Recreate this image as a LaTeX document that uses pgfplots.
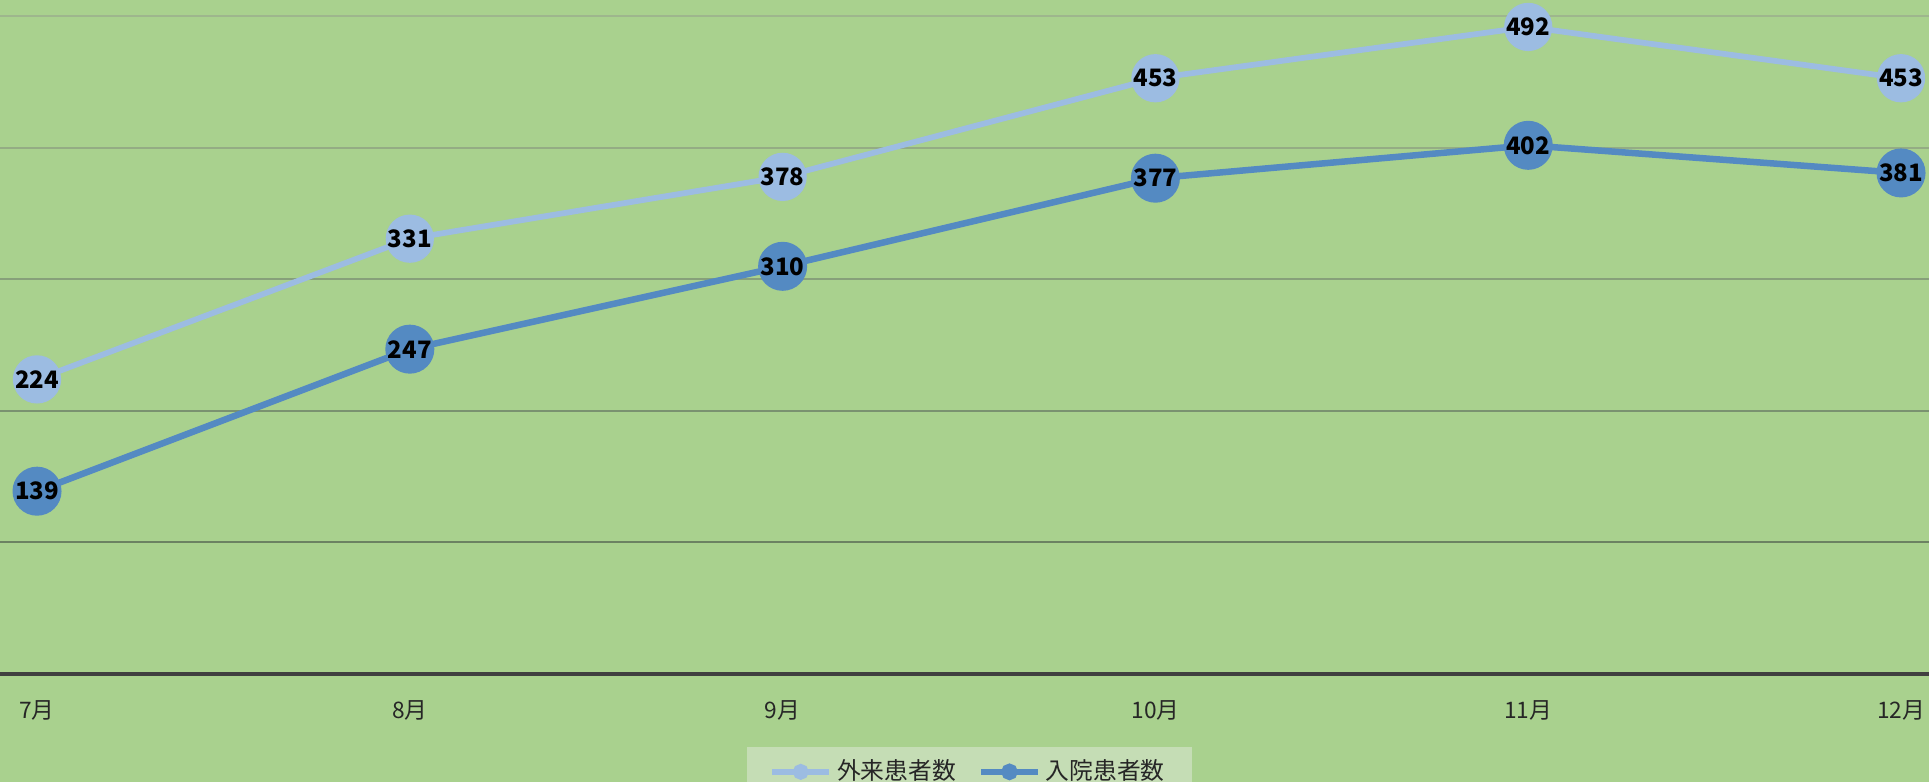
\documentclass[border=0pt]{standalone}
\usepackage{fontspec}
\setmainfont{Noto Sans CJK JP}
\usepackage{pgfplots}
\pgfplotsset{compat=1.18}
\definecolor{bg}{HTML}{A9D18E}
\definecolor{lightser}{HTML}{9CBCE2}
\definecolor{darkser}{HTML}{548AC2}
\definecolor{legbg}{HTML}{C5DDB5}
\definecolor{axgray}{HTML}{404040}
\definecolor{g5}{HTML}{9EB68D}
\definecolor{g4}{HTML}{94AC84}
\definecolor{g3}{HTML}{87A07A}
\definecolor{g2}{HTML}{7A9270}
\definecolor{g1}{HTML}{6C8262}
\begin{document}
\begin{tikzpicture}
\fill[bg] (0pt,-43.2pt) rectangle (771.6pt,269.6pt);
\begin{axis}[
  at={(0pt,0pt)}, anchor=south west,
  width=771.6pt, height=269.6pt, scale only axis,
  xmin=-0.0993, xmax=5.075, ymin=0, ymax=512.5,
  axis line style={draw=none},
  /pgf/number format/assume math mode=true,
  xtick={0,1,2,3,4,5},
  xticklabels={7月,8月,9月,10月,11月,12月},
  ytick=\empty,
  major tick length=0pt,
  xticklabel style={anchor=center, yshift=-14.4pt, text=black!85, font=\fontsize{9.1pt}{10pt}\selectfont},
  clip=false,
  nodes near coords,
  every node near coord/.append style={anchor=center, text=black, font=\bfseries\fontsize{9.6pt}{10pt}\selectfont},
  legend columns=2,
  legend style={at={(axis description cs:0.5,0)}, anchor=north, yshift=-29.2pt, xshift=2pt,
    fill=legbg, draw=none, font=\fontsize{9.5pt}{11pt}\selectfont, text=black!85,
    inner xsep=9pt, inner ysep=3pt,
    /tikz/every even column/.append style={column sep=7pt}},
]
\draw[g5, line width=0.8pt] (axis cs:-0.0993,500) -- (axis cs:5.075,500);
\draw[g4, line width=0.8pt] (axis cs:-0.0993,400) -- (axis cs:5.075,400);
\draw[g3, line width=0.8pt] (axis cs:-0.0993,300) -- (axis cs:5.075,300);
\draw[g2, line width=0.8pt] (axis cs:-0.0993,200) -- (axis cs:5.075,200);
\draw[g1, line width=0.8pt] (axis cs:-0.0993,100) -- (axis cs:5.075,100);
\draw[axgray, line width=1.6pt] (axis cs:-0.0993,0) -- (axis cs:5.075,0);
\addplot[lightser, line width=2.3pt, mark=*, mark size=8.5pt, mark options={draw=none, fill=lightser},
  legend image code/.code={\draw[lightser, line width=2.2pt] (0pt,0pt) -- (22.8pt,0pt); \fill[lightser] (11.4pt,0pt) circle (2pt);}]
  coordinates {(0,224) (1,331) (2,378) (3,453) (4,492) (5,453)};
\addlegendentry{外来患者数}
\addplot[darkser, line width=2.6pt, mark=*, mark size=8.5pt, mark options={draw=none, fill=darkser},
  legend image code/.code={\draw[darkser, line width=2.2pt] (0pt,0pt) -- (22.8pt,0pt); \fill[darkser] (11.4pt,0pt) circle (2pt);}]
  coordinates {(0,139) (1,247) (2,310) (3,377) (4,402) (5,381)};
\addlegendentry{入院患者数}
\end{axis}
\pgfresetboundingbox
\path (0pt,-43.2pt) rectangle (771.6pt,269.6pt);
\end{tikzpicture}
\end{document}
